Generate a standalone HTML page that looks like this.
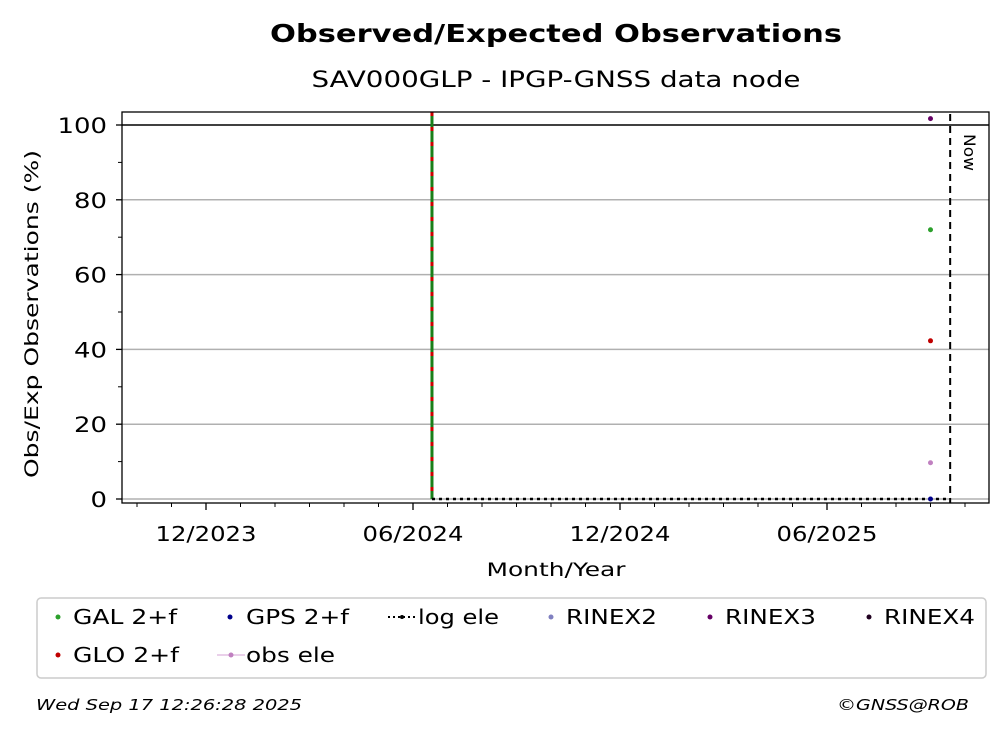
<!DOCTYPE html>
<html><head><meta charset="utf-8"><style>
body{margin:0;background:#fff;font-family:"Liberation Sans","DejaVu Sans",sans-serif;}
svg text{font-family:"DejaVu Sans","Liberation Sans",sans-serif;}
</style></head><body>
<svg id="chart" width="1008" height="734" xmlns="http://www.w3.org/2000/svg">
<rect width="1008" height="734" fill="#fff"/>
<text x="556" y="42" text-anchor="middle" font-size="25" font-weight="bold" textLength="572" lengthAdjust="spacingAndGlyphs">Observed/Expected Observations</text>
<text x="556" y="87" text-anchor="middle" font-size="22" textLength="489" lengthAdjust="spacingAndGlyphs">SAV000GLP - IPGP-GNSS data node</text>
<g id="grid"></g>
<g id="marks"></g>
<rect x="122" y="112" width="867" height="391" fill="none" stroke="#000" stroke-width="1.3"/>
<g id="axes"></g>
<text transform="translate(38,314) rotate(-90)" text-anchor="middle" font-size="19" textLength="328" lengthAdjust="spacingAndGlyphs">Obs/Exp Observations (%)</text>
<text x="556" y="576" text-anchor="middle" font-size="19" textLength="139" lengthAdjust="spacingAndGlyphs">Month/Year</text>
<g>
<rect x="37" y="598" width="949" height="80" rx="4" fill="#fff" stroke="#ccc" stroke-width="1.5"/>
<g><circle cx="58" cy="617" r="2.5" fill="#2ca02c"/><text x="73" y="624" font-size="20" textLength="104" lengthAdjust="spacingAndGlyphs">GAL 2+f</text></g>
<g><circle cx="230" cy="617" r="2.5" fill="#00008b"/><text x="246" y="624" font-size="20" textLength="103" lengthAdjust="spacingAndGlyphs">GPS 2+f</text></g>
<g><line x1="388" y1="617" x2="416" y2="617" stroke="#000" stroke-width="2" stroke-dasharray="2,3"/><circle cx="402" cy="617" r="2" fill="#000"/><text x="418" y="624" font-size="20" textLength="81" lengthAdjust="spacingAndGlyphs">log ele</text></g>
<g><circle cx="551" cy="617" r="2.5" fill="#8080c0"/><text x="566" y="624" font-size="20" textLength="91" lengthAdjust="spacingAndGlyphs">RINEX2</text></g>
<g><circle cx="710" cy="617" r="2.5" fill="#660066"/><text x="725" y="624" font-size="20" textLength="91" lengthAdjust="spacingAndGlyphs">RINEX3</text></g>
<g><circle cx="869" cy="617" r="2.5" fill="#200020"/><text x="884" y="624" font-size="20" textLength="91" lengthAdjust="spacingAndGlyphs">RINEX4</text></g>
<g><circle cx="58" cy="655" r="2.5" fill="#c00000"/><text x="73" y="662" font-size="20" textLength="106" lengthAdjust="spacingAndGlyphs">GLO 2+f</text></g>
<g><line x1="217" y1="655" x2="245" y2="655" stroke="#d4a0d4" stroke-width="1"/><circle cx="231" cy="655" r="2.5" fill="#c080c0"/><text x="246" y="662" font-size="20" textLength="89" lengthAdjust="spacingAndGlyphs">obs ele</text></g>
</g>
<text x="36" y="710" font-size="15" font-style="italic" textLength="266" lengthAdjust="spacingAndGlyphs">Wed Sep 17 12:26:28 2025</text>
<text x="837" y="710" font-size="15" font-style="italic" textLength="132" lengthAdjust="spacingAndGlyphs">©GNSS@ROB</text>
</svg>
<script>
const yTicks=[0,20,40,60,80,100];
const xTickLabels=["12/2023","06/2024","12/2024","06/2025"];
const xTickMonths=[0,6,12,18];
const stationEventMonth=[6.55];
const nowMonth=[21.57];
const pointMonth=21.0;
const seriesNames=["RINEX3","GAL 2+f","GLO 2+f","obs ele","GPS 2+f"];
const seriesValues=[101.7,72,42.3,9.7,0];
const seriesColors=["#660066","#2ca02c","#c00000","#c080c0","#00008b"];
const logEleValues=[0,0];
const NS="http://www.w3.org/2000/svg";
const X=m=>206+m*34.5;
const Y=v=>499-v*3.74;
function mk(tag,attrs,parent){const e=document.createElementNS(NS,tag);for(const k in attrs)e.setAttribute(k,attrs[k]);document.getElementById(parent).appendChild(e);return e;}
yTicks.forEach(v=>{
 const g=mk("line",{x1:122,x2:989,y1:Y(v),y2:Y(v),stroke:v===100?"#000":"#b0b0b0","stroke-width":1.5},"grid");
 
 
 const t=mk("line",{x1:116,x2:122,y1:Y(v),y2:Y(v),stroke:"#000","stroke-width":1.3},"axes");
 
 
 const w=String(v).length*16.5;
 const l=mk("text",{x:107,y:Y(v)+8,"text-anchor":"end","font-size":"21",textLength:w,lengthAdjust:"spacingAndGlyphs"},"axes");l.textContent=v;
 
 
});
for(let v=10;v<100;v+=20){const t=mk("line",{x1:118,x2:122,y1:Y(v),y2:Y(v),stroke:"#000"},"axes");
 
 }
for(let m=-2;m<=22;m++){const major=xTickMonths.includes(m);
 const t=mk("line",{x1:X(m),x2:X(m),y1:503,y2:major?510:507,stroke:"#000","stroke-width":major?1.3:1},"axes");
 
 }
xTickMonths.forEach((m,i)=>{const l=mk("text",{x:X(m),y:541,"text-anchor":"middle","font-size":"20",textLength:101,lengthAdjust:"spacingAndGlyphs"},"axes");l.textContent=xTickLabels[i];
 
 });
stationEventMonth.forEach(m=>{
 const a=mk("line",{x1:X(m),x2:X(m),y1:112,y2:Y(0),stroke:"#1a7f1a","stroke-width":3},"marks");
 
 
 const b=mk("line",{x1:X(m),x2:X(m),y1:112,y2:Y(0),stroke:"#d00000","stroke-width":3,"stroke-dasharray":"4,11"},"marks");
 
 
});
const le=mk("line",{x1:X(stationEventMonth[0]),x2:X(nowMonth[0]),y1:Y(logEleValues[0]),y2:Y(logEleValues[1]),stroke:"#000","stroke-width":2.5,"stroke-dasharray":"3,4"},"marks");


const nl=mk("line",{x1:X(nowMonth[0]),x2:X(nowMonth[0]),y1:114,y2:503,stroke:"#000","stroke-width":2,"stroke-dasharray":"7,5"},"marks");


const nt=mk("text",{transform:`translate(${X(nowMonth[0])+14},134) rotate(90)`,"font-size":"16",textLength:37,lengthAdjust:"spacingAndGlyphs"},"marks");nt.textContent="Now";


seriesValues.forEach((v,i)=>{const c=mk("circle",{cx:X(pointMonth),cy:Y(v),r:2.5,fill:seriesColors[i]},"marks");
 
 });
</script>
</body></html>
